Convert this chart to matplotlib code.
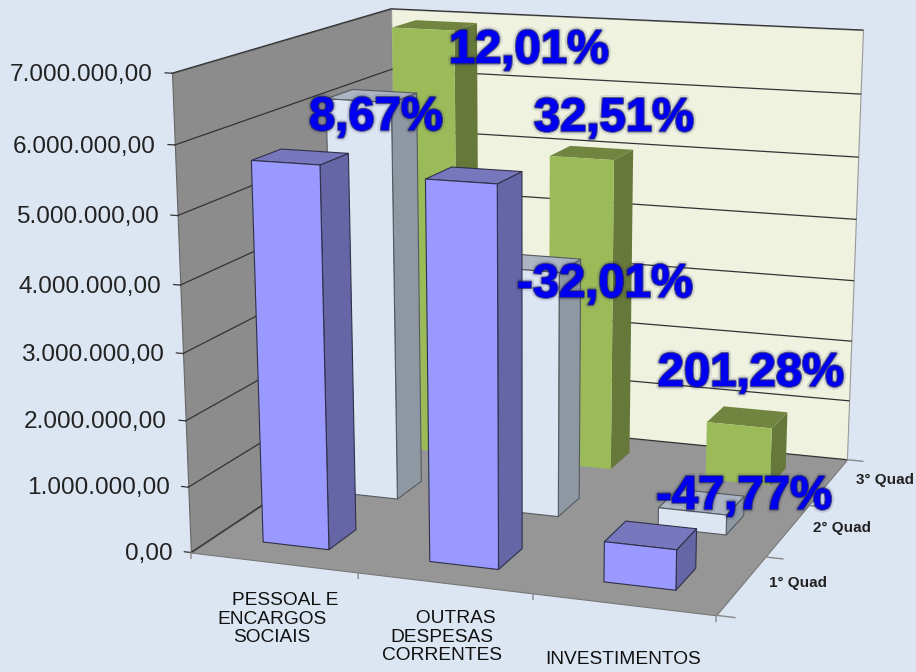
import numpy as np
import matplotlib
matplotlib.use("Agg")
import matplotlib.pyplot as plt
import matplotlib.patheffects as pe
from mpl_toolkits.mplot3d.art3d import Poly3DCollection

plt.rcParams["font.family"] = ["Liberation Sans", "DejaVu Sans"]

categories = ["     PESSOAL E\nENCARGOS\nSOCIAIS", "     OUTRAS\nDESPESAS\nCORRENTES", "INVESTIMENTOS"]
quads = ["1° Quad", "2° Quad", "3° Quad"]
quad1 = [5700000, 5600000, 600000]
quad2 = [6195000, 3807000, 313000]
quad3 = [6940000, 5045000, 943000]
ticks = [0, 1000000, 2000000, 3000000, 4000000, 5000000, 6000000, 7000000]
tick_labels = ["0,00", "1.000.000,00", "2.000.000,00", "3.000.000,00",
               "4.000.000,00", "5.000.000,00", "6.000.000,00", "7.000.000,00"]
pct_labels = ["8,67%", "12,01%", "32,51%", "-32,01%", "201,28%", "-47,77%"]
pct_pos = [(376, 118), (529, 51), (614, 119), (605, 285), (751, 374), (744, 497)]

bg = "#dce6f2"
# front, side, top, edge for each series
colors = [("#9999ff", "#6666a6", "#7777bd", "#30304a"),
          ("#dce6f2", "#8e98a2", "#abb4c0", "#555a60"),
          ("#9bbb59", "#66783a", "#728540", "none")]
bar_w = 0.40
bar_d = 0.38

# frame corners: (cat, quad, millions) -> pixel in the picture
world = [(0, 0, 0), (0, 0, 7), (3, 0, 0), (3, 3, 0), (0, 3, 7), (3, 3, 7), (0, 3, 0)]
pix = [(191, 553), (172, 73), (716, 615), (847, 460), (391, 9), (863, 30), (397, 415)]


def fit_projection(world, pix):
    rows = []
    for (x, y, z), (u, v) in zip(world, pix):
        rows.append([x, y, z, 1, 0, 0, 0, 0, -u * x, -u * y, -u * z, -u])
        rows.append([0, 0, 0, 0, x, y, z, 1, -v * x, -v * y, -v * z, -v])
    h = np.linalg.svd(np.array(rows))[2][-1].reshape(3, 4)
    h = h / h[2, 3]
    return np.array([h[0], h[1], [0, 1, 0, 0], h[2]])


M = fit_projection(world, pix)

fig = plt.figure(figsize=(9.16, 6.72), dpi=100, facecolor=bg)
ax = fig.add_axes([0, 0, 1, 1], projection="3d", computed_zorder=False)
ax.set_proj_type("ortho")  # stops mplot3d clipping lines outside -1..1
ax.apply_aspect = lambda position=None: None
ax.get_proj = lambda: M
ax.set_axis_off()
ax.patch.set_visible(False)
ax.viewLim.intervalx = (0, 916)
ax.viewLim.intervaly = (672, 0)


def face(verts, color, edge, z, lw=0.8):
    ax.add_collection3d(Poly3DCollection([verts], facecolors=color, edgecolors=edge,
                                         linewidths=lw, zorder=z))


# walls and floor
face([(0, 0, 0), (3, 0, 0), (3, 3, 0), (0, 3, 0)], "#969696", "#777777", 1)
face([(0, 0, 0), (0, 3, 0), (0, 3, 7), (0, 0, 7)], "#8c8c8c", "#666666", 1)
face([(0, 3, 0), (3, 3, 0), (3, 3, 7), (0, 3, 7)], "#eef2df", "#999999", 1)

# gridlines and ticks
for t in ticks:
    m = t / 1e6
    ax.plot([0, 0, 3], [0, 3, 3], [m, m, m], color="#333333", lw=0.9, zorder=2)
    ax.plot([-0.04, 0], [0, 0], [m, m], color="#333333", lw=0.9, zorder=2)
for i in range(4):
    ax.plot([i, i], [0, 0], [0, -0.09], color="#888888", lw=1, zorder=2)
for j in range(4):
    ax.plot([3, 3.1], [j, j], [0, 0], color="#888888", lw=1, zorder=2)


def draw_bar(i, j, value, cols, z):
    x0, x1 = i + 0.49 - bar_w / 2, i + 0.49 + bar_w / 2
    y0, y1 = j + 0.5 - bar_d / 2, j + 0.5 + bar_d / 2
    h = value / 1e6
    edge = cols[3]
    face([(x1, y0, 0), (x1, y1, 0), (x1, y1, h), (x1, y0, h)], cols[1], edge, z)
    face([(x0, y0, h), (x1, y0, h), (x1, y1, h), (x0, y1, h)], cols[2], edge, z)
    face([(x0, y0, 0), (x1, y0, 0), (x1, y0, h), (x0, y0, h)], cols[0], edge, z)


series = [quad1, quad2, quad3]
for j in [2, 1, 0]:
    for i in range(3):
        draw_bar(i, j, series[j][i], colors[j], 3 + (2 - j) * 3 + i)


def pixel_text(x, y, s, **kw):
    return fig.text(x / 916, 1 - y / 672, s, **kw)


# value axis labels
for t, lab in zip(ticks, tick_labels):
    v = M @ np.array([-0.04, 0, t / 1e6, 1])
    pixel_text(v[0] / v[3] - 12, v[1] / v[3] + 2, lab, ha="right", va="center",
               fontsize=17.6, color="#222222")

# category labels
cat_pos = [(272, 619), (442, 637), (623, 660)]
for (x, y), lab in zip(cat_pos, categories):
    pixel_text(x, y, lab, ha="center", va="center", fontsize=13.8, color="#111111",
               linespacing=1.08)

# quad labels
quad_pos = [(798, 583), (842, 528), (885, 480)]
for (x, y), lab in zip(quad_pos, quads):
    pixel_text(x, y, lab, ha="center", va="center", fontsize=11, fontweight="bold", color="#222222")

# percent labels
for (x, y), lab in zip(pct_pos, pct_labels):
    pixel_text(x, y, lab, ha="center", va="center", fontsize=34, fontweight="bold", color="#0000f0",
               path_effects=[pe.withStroke(linewidth=5, foreground="#20205a", alpha=0.12),
                             pe.withStroke(linewidth=2, foreground="#10106a", alpha=0.7),
                             pe.Normal()], zorder=50)

fig.savefig("out.png", dpi=100, facecolor=bg)
